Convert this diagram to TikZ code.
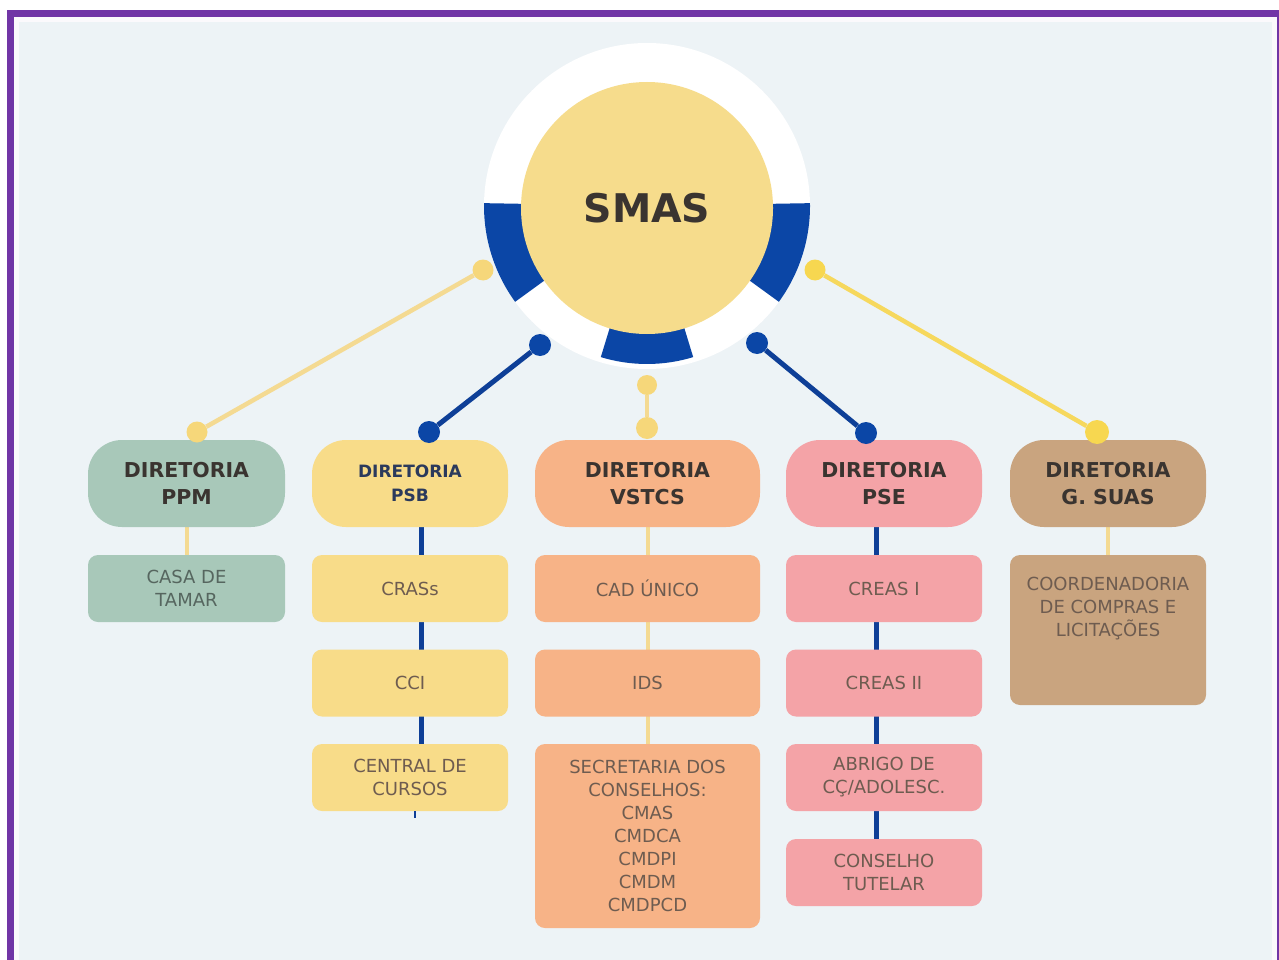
\documentclass[tikz,border=0pt]{standalone}
\usepackage{fontspec}
\setmainfont{DejaVu Sans}
\definecolor{bg}{HTML}{EDF3F6}
\definecolor{framec}{HTML}{7135A6}
\definecolor{smasc}{HTML}{F6DC8C}
\definecolor{ringblue}{HTML}{0B46A6}
\definecolor{lineblue}{HTML}{0E3F97}
\definecolor{dotyel}{HTML}{F6D77A}
\definecolor{dotyelb}{HTML}{F7D750}
\definecolor{lineyel}{HTML}{F4DA92}
\definecolor{ppmc}{HTML}{A8C8B9}
\definecolor{psbc}{HTML}{F8DC89}
\definecolor{vstc}{HTML}{F7B387}
\definecolor{psec}{HTML}{F4A3A7}
\definecolor{gsuc}{HTML}{C9A47F}
\definecolor{headtxt}{HTML}{3A3430}
\definecolor{navytxt}{HTML}{2B3A5C}
\definecolor{subtxt}{HTML}{6E5C50}
\definecolor{greentxt}{HTML}{56665F}
\begin{document}
\begin{tikzpicture}[x=1pt,y=-1pt,
  headbox/.style={rounded corners=34pt, minimum height=87pt, inner sep=0pt, align=center,
    font=\bfseries\fontsize{20.5}{27}\selectfont, text=headtxt},
  subbox/.style={rounded corners=10pt, minimum height=67pt, inner sep=0pt, align=center,
    font=\fontsize{18}{23}\selectfont, text=subtxt},
  ydot/.style={circle, fill=dotyel, minimum size=21pt, inner sep=0pt},
  bdot/.style={circle, fill=ringblue, minimum size=22pt, inner sep=0pt},
  yline/.style={draw=lineyel, line width=4.5pt},
  bline/.style={draw=lineblue, line width=5pt}
]
\useasboundingbox (0,0) rectangle (1279,960);
% frame and background
\fill[white] (0,0) rectangle (1279,960);
\fill[framec] (7,10) rectangle (1279,960);
\fill[white!85!framec!20] (14,17) rectangle (1277,960);
\fill[bg] (19,22) rectangle (1272,960);

% central ring
\coordinate (c) at (647,206);
\fill[white] (c) circle[radius=163];
\fill[ringblue] (c) -- ++(144:163) arc[start angle=144,end angle=181,radius=163] -- cycle;
\fill[ringblue] (c) -- ++(-1:163) arc[start angle=-1,end angle=36,radius=163] -- cycle;
\fill[ringblue] (c) -- ++(73:158) arc[start angle=73,end angle=107,radius=158] -- cycle;
\node[circle, fill=smasc, minimum size=252pt, inner sep=0pt,
  font=\bfseries\fontsize{39.5}{40}\selectfont, text=headtxt] (smas) at (647,208) {SMAS};

% coordinates for vertical connectors
\coordinate (ppmtop) at (187,500);
\coordinate (ppmbot) at (187,590);
\coordinate (psbtop) at (421,500);
\coordinate (psbbot) at (421,780);
\coordinate (vsttop) at (648,500);
\coordinate (vstbot) at (648,800);
\coordinate (psetop) at (876,500);
\coordinate (psebot) at (876,870);
\coordinate (gsutop) at (1108,500);
\coordinate (gsubot) at (1108,600);
\draw[yline] (ppmtop) -- (ppmbot);
\draw[bline] (psbtop) -- (psbbot);
\draw[yline] (vsttop) -- (vstbot);
\draw[bline] (psetop) -- (psebot);
\draw[yline] (gsutop) -- (gsubot);

% headings
\node[headbox, fill=ppmc, minimum width=197pt] (ppm) at (186.5,483.5) {DIRETORIA\\PPM};
\node[headbox, fill=psbc, minimum width=196pt, text=navytxt,
  font=\bfseries\fontsize{17}{24}\selectfont] (psb) at (410,483.5) {DIRETORIA\\PSB};
\node[headbox, fill=vstc, minimum width=225pt] (vst) at (647.5,483.5) {DIRETORIA\\VSTCS};
\node[headbox, fill=psec, minimum width=196pt] (pse) at (884,483.5) {DIRETORIA\\PSE};
\node[headbox, fill=gsuc, minimum width=196pt] (gsu) at (1108,483.5) {DIRETORIA\\G. SUAS};

% sub boxes
\node[subbox, fill=ppmc, minimum width=197pt, text=greentxt] (casa) at (186.5,588.5) {CASA DE\\TAMAR};

\node[subbox, fill=psbc, minimum width=196pt] (cras) at (410,588.5) {CRASs};
\node[subbox, fill=psbc, minimum width=196pt] (cci) at (410,683) {CCI};
\node[subbox, fill=psbc, minimum width=196pt] (cursos) at (410,777.5) {CENTRAL DE\\CURSOS};
\coordinate (stub) at (415,818);
\draw[draw=lineblue, line width=2.5pt] (cursos.south -| stub) -- (stub);

\node[subbox, fill=vstc, minimum width=225pt] (cad) at (647.5,588.5) {CAD ÚNICO};
\node[subbox, fill=vstc, minimum width=225pt] (ids) at (647.5,683) {IDS};
\node[subbox, fill=vstc, minimum width=225pt, minimum height=184pt] (sec) at (647.5,836)
  {SECRETARIA DOS\\CONSELHOS:\\CMAS\\CMDCA\\CMDPI\\CMDM\\CMDPCD};

\node[subbox, fill=psec, minimum width=196pt] (creas1) at (884,588.5) {CREAS I};
\node[subbox, fill=psec, minimum width=196pt] (creas2) at (884,683) {CREAS II};
\node[subbox, fill=psec, minimum width=196pt] (abrigo) at (884,777.5) {ABRIGO DE\\CÇ/ADOLESC.};
\node[subbox, fill=psec, minimum width=196pt] (tutelar) at (884,872.5) {CONSELHO\\TUTELAR};

\node[subbox, fill=gsuc, minimum width=196pt, minimum height=150pt] (coord) at (1108,630) {};
\node[anchor=north, align=center, inner sep=0pt, font=\fontsize{18}{23}\selectfont, text=subtxt]
  (coordtxt) at ([yshift=-22pt]coord.north) {COORDENADORIA\\DE COMPRAS E\\LICITAÇÕES};

% dots
\node[ydot] (r1) at (483,270) {};
\node[ydot] (h1) at (197,432) {};
\node[bdot] (r2) at (540,345) {};
\node[bdot] (h2) at (429,432) {};
\node[ydot, minimum size=20pt] (r3) at (647,385) {};
\node[ydot, minimum size=22pt] (h3) at (647,428) {};
\node[bdot] (r4) at (757,343) {};
\node[bdot] (h4) at (866,433) {};
\node[ydot, fill=dotyelb] (r5) at (815,270) {};
\node[ydot, fill=dotyelb, minimum size=24pt] (h5) at (1097,432) {};

% diagonal connectors
\draw[yline] (r1) -- (h1);
\draw[bline] (r2) -- (h2);
\draw[yline, line width=4pt] (r3) -- (h3);
\draw[bline] (r4) -- (h4);
\draw[yline, draw=dotyelb!80!lineyel] (r5) -- (h5);
\end{tikzpicture}
\end{document}
